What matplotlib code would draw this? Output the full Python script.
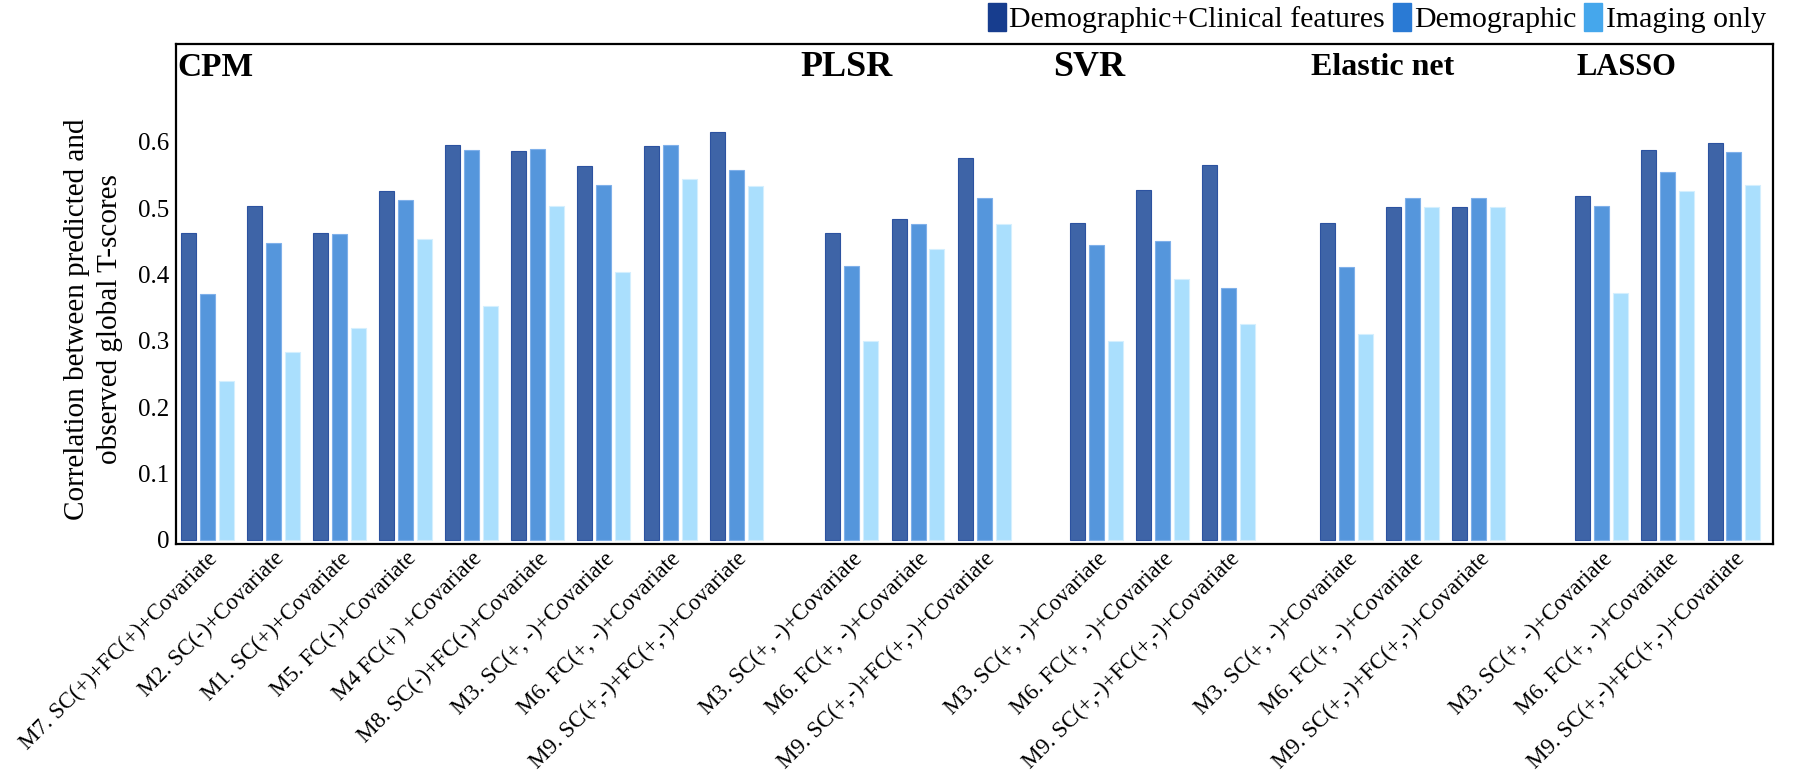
import numpy as np
import matplotlib
matplotlib.use("Agg")
import matplotlib.pyplot as plt
from matplotlib.patches import Patch

plt.rcParams['font.family'] = ['Liberation Serif', 'DejaVu Serif']

# Models and their x-axis feature sets
models = ['CPM', 'PLSR', 'SVR', 'Elastic net', 'LASSO']
cpm_labels = [
    'M7. SC(+)+FC(+)+Covariate',
    'M2. SC(-)+Covariate',
    'M1. SC(+)+Covariate',
    'M5. FC(-)+Covariate',
    'M4 FC(+) +Covariate',
    'M8. SC(-)+FC(-)+Covariate',
    'M3. SC(+, -)+Covariate',
    'M6. FC(+, -)+Covariate',
    'M9. SC(+,-)+FC(+,-)+Covariate',
]
other_labels = [
    'M3. SC(+, -)+Covariate',
    'M6. FC(+, -)+Covariate',
    'M9. SC(+,-)+FC(+,-)+Covariate',
]

# correlation values, in order CPM(9), PLSR(3), SVR(3), Elastic net(3), LASSO(3)
demo_clinical = [0.463, 0.503, 0.463, 0.526, 0.595, 0.586, 0.564, 0.594, 0.614,
                 0.462, 0.484, 0.576,
                 0.478, 0.527, 0.565,
                 0.478, 0.502, 0.502,
                 0.518, 0.588, 0.598]
demographic = [0.370, 0.447, 0.461, 0.512, 0.588, 0.589, 0.534, 0.595, 0.558,
               0.412, 0.476, 0.515,
               0.445, 0.450, 0.379,
               0.411, 0.515, 0.515,
               0.503, 0.554, 0.584]
imaging_only = [0.239, 0.283, 0.320, 0.453, 0.353, 0.503, 0.404, 0.543, 0.533,
                0.300, 0.438, 0.476,
                0.299, 0.393, 0.326,
                0.310, 0.502, 0.502,
                0.372, 0.525, 0.534]

series_names = ['Demographic+Clinical features', 'Demographic', 'Imaging only']

# layout
counts = [len(cpm_labels)] + [len(other_labels)] * 4
gaps = [0, 0.75, 0.70, 0.78, 0.86]
name_offsets = [-0.456, -0.78, -0.65, -0.54, -0.38]
name_sizes = [24, 26, 26, 23, 22]
bar_colors = ['#3e64a7', '#5596dc', '#aadffd']
edge_colors = ['#2c52a0', '#7fb0ea', '#d4effe']
legend_colors = ['#173d8e', '#2a7ad4', '#45a7ec']

pos = []
starts = []
x = 0.0
for n, g in zip(counts, gaps):
    x += g
    starts.append(x)
    for i in range(n):
        pos.append(x + i)
    x += n
pos = np.array(pos)
tick_labels = cpm_labels + other_labels * 4

fig = plt.figure(figsize=(18, 7.73), dpi=100)
ax = fig.add_axes([0.0978, 0.2963, 0.8872, 0.6467])

w = 0.227
step = 0.287
for k, vals in enumerate([demo_clinical, demographic, imaging_only]):
    ax.bar(pos + (k - 1) * step, vals, width=w, color=bar_colors[k],
           edgecolor=edge_colors[k], linewidth=0.8)

ax.set_xlim(-0.471, pos[-1] + 0.59)
ax.set_ylim(-0.006, 0.747)
ax.set_yticks([0, 0.1, 0.2, 0.3, 0.4, 0.5, 0.6])
ax.set_yticklabels(['0', '0.1', '0.2', '0.3', '0.4', '0.5', '0.6'], fontsize=18)
ax.set_xticks(pos)
ax.set_xticklabels(tick_labels, rotation=45, ha='right', rotation_mode='anchor', fontsize=16.5)
ax.tick_params(axis='both', length=0)
ax.tick_params(axis='y', pad=5)
ax.tick_params(axis='x', pad=3)
for s in ax.spines.values():
    s.set_linewidth(1.6)
    s.set_color('black')

ax.set_ylabel('Correlation between predicted and\nobserved global T-scores', fontsize=21,
              linespacing=1.35)
ax.yaxis.set_label_coords(-0.033, 0.45)

# model names inside the plot
for m, s0, off, fs in zip(models, starts, name_offsets, name_sizes):
    ax.text(s0 + off, 0.711, m, fontsize=fs, fontweight='bold', va='center', ha='left')

handles = [Patch(facecolor=c, edgecolor=c) for c in legend_colors]
fig.legend(handles, series_names, loc='center right', bbox_to_anchor=(0.981, 0.977),
           ncol=3, frameon=False, fontsize=21.5, handlelength=0.6, handleheight=1.1,
           handletextpad=0.12, columnspacing=0.25, borderpad=0, borderaxespad=0)

fig.savefig('out.png', dpi=100)
